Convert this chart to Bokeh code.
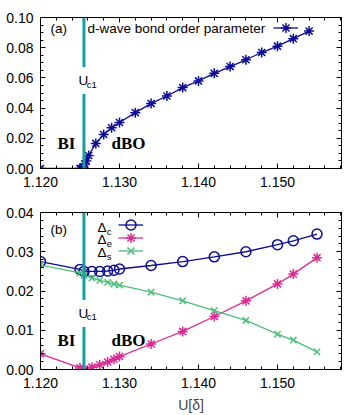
from bokeh.plotting import figure
from bokeh.layouts import column
from bokeh.models import (LinearAxis, Label, Span, Legend, LegendItem, Range1d,
                          FixedTicker, NumeralTickFormatter, CustomJSTickFormatter)
from bokeh.embed import file_html
from bokeh.resources import INLINE

# ---------------- data ----------------
U_c1 = 1.1255
bo_x = [1.120, 1.1250, 1.1252, 1.1254, 1.1256, 1.1258, 1.1261, 1.127, 1.128, 1.129, 1.130,
        1.132, 1.134, 1.136, 1.138, 1.140, 1.142, 1.144, 1.146, 1.148, 1.150, 1.152, 1.154]
bo_y = [0.0, 0.0, 0.0, 0.001, 0.003, 0.005, 0.0086, 0.0166, 0.0225, 0.027, 0.0305,
        0.037, 0.043, 0.048, 0.0536, 0.058, 0.063, 0.0675, 0.072, 0.0768, 0.081, 0.086, 0.091]

gap_x = [1.120, 1.125, 1.1255, 1.1265, 1.1275, 1.1285, 1.1293, 1.130,
         1.134, 1.138, 1.142, 1.146, 1.150, 1.152, 1.155]
delta_c = [0.0275, 0.0255, 0.0250, 0.0250, 0.0250, 0.0251, 0.0253, 0.0256,
           0.0265, 0.0275, 0.0287, 0.0300, 0.0318, 0.0328, 0.0345]
delta_e = [0.0040, 0.0004, 0.0001, 0.0006, 0.0012, 0.0019, 0.0026, 0.0033,
           0.0065, 0.0097, 0.0135, 0.0175, 0.0218, 0.0243, 0.0285]
delta_s = [0.0266, 0.0246, 0.0240, 0.0233, 0.0227, 0.0222, 0.0218, 0.0215,
           0.0197, 0.0175, 0.0150, 0.0125, 0.0090, 0.0075, 0.0045]

x_ticks = [1.120, 1.130, 1.140, 1.150]
top_y_ticks = [0.00, 0.02, 0.04, 0.06, 0.08, 0.10]
bot_y_ticks = [0.00, 0.01, 0.02, 0.03, 0.04]

BLUE = "#0c0c96"
MAGENTA = "#dc2a94"
GREEN = "#4cbf7a"
TEAL = "#1a9e9e"
FONT = "Liberation Sans"
FS = "14px"
SERIF = "Liberation Serif"


def style_axes(p, yticks, yminor):
    xt = FixedTicker(ticks=x_ticks, minor_ticks=[1.120 + 0.002 * i for i in range(20)])
    yt = FixedTicker(ticks=yticks, minor_ticks=yminor)
    xb = p.xaxis[0]
    yl = p.yaxis[0]
    xb.ticker = xt
    yl.ticker = yt
    xb.formatter = NumeralTickFormatter(format="0.000")
    yl.formatter = NumeralTickFormatter(format="0.00")
    xb.major_label_text_font_size = FS
    yl.major_label_text_font_size = FS
    xb.major_label_standoff = 8
    yl.major_label_standoff = 7
    axes = [xb, yl]
    for side, ticker in (("above", xt), ("right", yt)):
        ax = LinearAxis(ticker=ticker, formatter=CustomJSTickFormatter(code="return ''"))
        ax.major_label_standoff = 0
        p.add_layout(ax, side)
        axes.append(ax)
    for ax in axes:
        ax.major_tick_in = 5
        ax.major_tick_out = 0
        ax.minor_tick_in = 3
        ax.minor_tick_out = 0
        ax.axis_line_color = "black"
        ax.axis_line_width = 1
        ax.major_tick_line_color = "black"
        ax.minor_tick_line_color = "black"
        ax.major_label_text_font = FONT
        ax.major_label_text_color = "black"
    p.grid.visible = False
    p.outline_line_color = "black"
    return xb


def add_text(p, x, y, text, size="13.5px", font=FONT, style="normal", bg=None, pad=0):
    lab = Label(x=x, y=y, text=text, text_font=font, text_font_size=size,
                text_font_style=style, text_color="black",
                text_baseline="middle", text_align="left")
    if bg:
        lab.background_fill_color = bg
        lab.padding = pad
    p.add_layout(lab)
    return lab


def add_sample(p, renderers, x, y):
    # one-item legend (glyph only); the label is drawn separately to its left
    leg = Legend(items=[LegendItem(label="", renderers=renderers)], location=(x, y),
                 glyph_width=25, glyph_height=25, label_width=0, label_standoff=0,
                 padding=0, margin=0, border_line_alpha=0, background_fill_alpha=0)
    p.add_layout(leg)


# ---------------- panel (a) ----------------
p1 = figure(width=349, height=198, output_backend="svg", toolbar_location=None,
            x_range=Range1d(1.120, 1.1581), y_range=Range1d(0.0, 0.10),
            min_border_left=40, min_border_right=8, min_border_top=17, min_border_bottom=30)
style_axes(p1, top_y_ticks, [0.005 * i for i in range(21)])

p1.add_layout(Span(location=U_c1, dimension="height", line_color=TEAL, line_width=3))
l1 = p1.line(bo_x, bo_y, line_color=BLUE, line_width=1.3)
s1 = p1.scatter(bo_x, bo_y, marker="asterisk", size=10, line_color=BLUE, line_width=1.5)

add_sample(p1, [l1, s1], 233, 128)
add_text(p1, 1.12595, 0.0927, "d-wave bond order parameter")
add_text(p1, 1.12127, 0.0927, "(a)")
add_text(p1, 1.12468, 0.0583, "U", bg="white", pad=(1, 6))
add_text(p1, 1.12585, 0.0558, "c1", size="9.5px")
add_text(p1, 1.12215, 0.0166, "BI", font=SERIF, style="bold", size="17px")
add_text(p1, 1.12899, 0.0166, "dBO", font=SERIF, style="bold", size="17px")

# ---------------- panel (b) ----------------
p2 = figure(width=349, height=217, output_backend="svg", toolbar_location=None,
            x_range=Range1d(1.120, 1.1581), y_range=Range1d(0.0, 0.04),
            min_border_left=40, min_border_right=8, min_border_top=14, min_border_bottom=43)
xb2 = style_axes(p2, bot_y_ticks, [0.002 * i for i in range(21)])
xb2.axis_label = "U[δ]"
xb2.axis_label_text_font = FONT
xb2.axis_label_text_font_size = FS
xb2.axis_label_text_font_style = "normal"
xb2.axis_label_standoff = 6

p2.add_layout(Span(location=U_c1, dimension="height", line_color=TEAL, line_width=3))
lc = p2.line(gap_x, delta_c, line_color=BLUE, line_width=1.3)
sc = p2.scatter(gap_x, delta_c, marker="circle", size=10, line_color=BLUE,
                fill_alpha=0, line_width=1.5)
le = p2.line(gap_x, delta_e, line_color=MAGENTA, line_width=1.3)
se = p2.scatter(gap_x, delta_e, marker="asterisk", size=10, line_color=MAGENTA, line_width=1.5)
ls = p2.line(gap_x, delta_s, line_color=GREEN, line_width=1.3)
ss = p2.scatter(gap_x, delta_s, marker="x", size=9, line_color=GREEN, line_width=1.5)

for i, rends in enumerate([[lc, sc], [le, se], [ls, ss]]):
    add_sample(p2, rends, 78, 132 - 13 * i)
for i, sub in enumerate(["c", "e", "s"]):
    yv = 0.03625 - i * 0.00325
    add_text(p2, 1.12722, yv, "Δ")
    add_text(p2, 1.12838, yv - 0.0010, sub, size="9.5px")
add_text(p2, 1.12127, 0.03575, "(b)")
add_text(p2, 1.12468, 0.01425, "U", bg="white", pad=(1, 6))
add_text(p2, 1.12585, 0.0135, "c1", size="9.5px")
add_text(p2, 1.12215, 0.0075, "BI", font=SERIF, style="bold", size="17px")
add_text(p2, 1.12899, 0.0075, "dBO", font=SERIF, style="bold", size="17px")

layout = column(p1, p2, spacing=0)
open("out.html", "w").write(file_html(layout, INLINE))
